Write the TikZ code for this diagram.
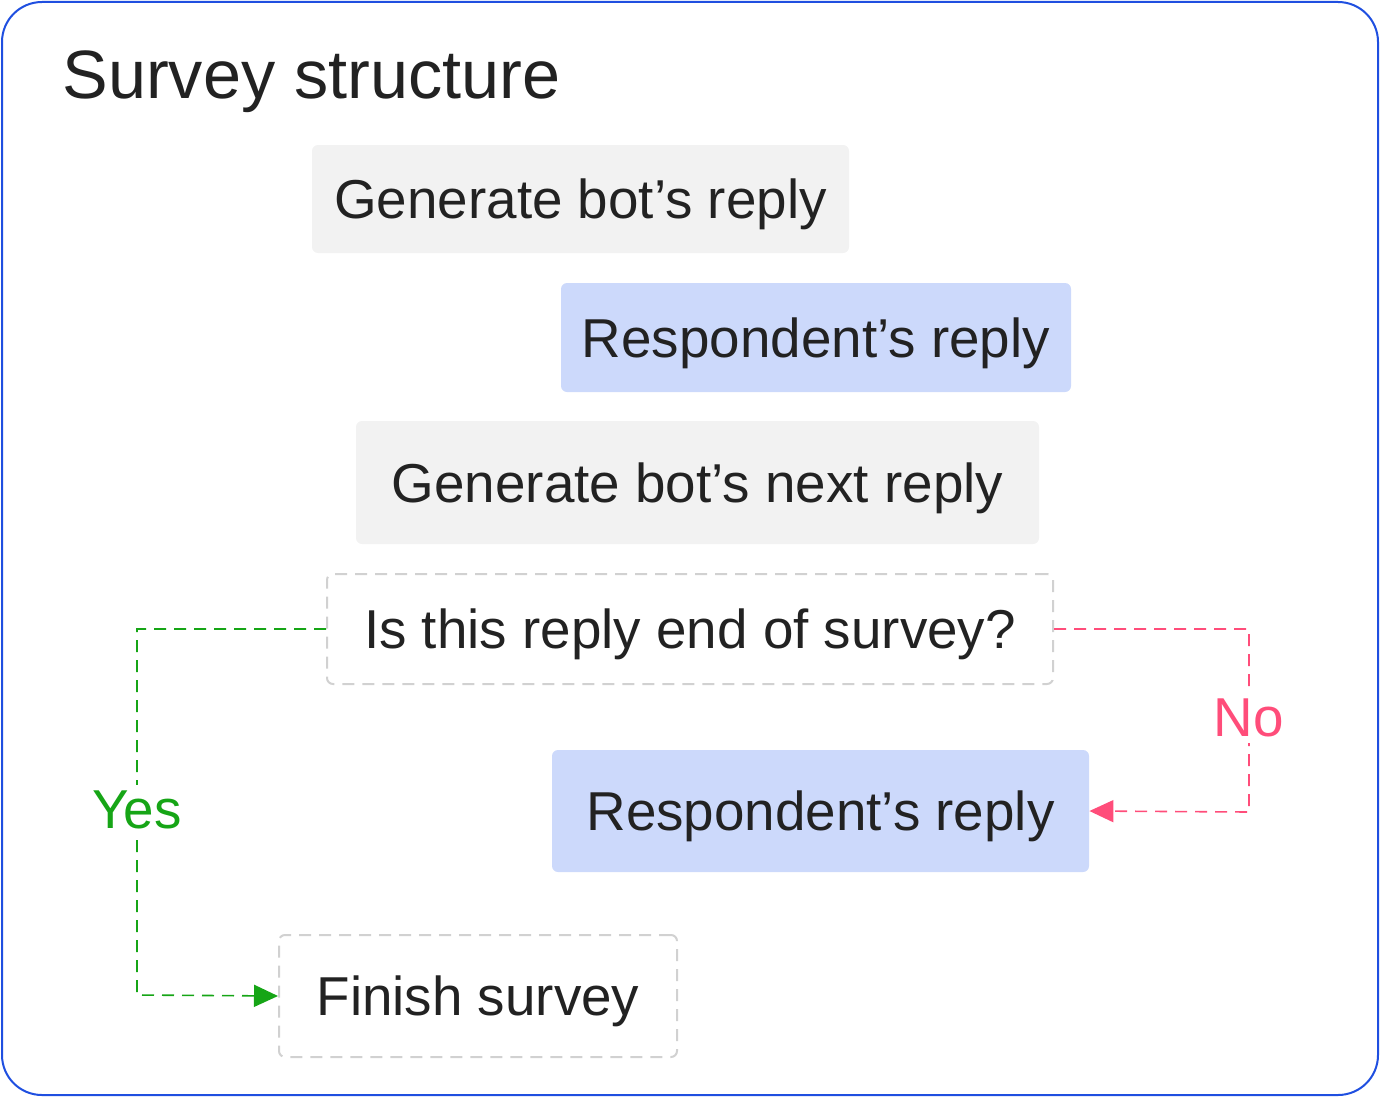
\documentclass[tikz,border=0pt]{standalone}
\usepackage{fontspec}
\setmainfont{Liberation Sans}
\usetikzlibrary{arrows.meta}
\definecolor{gbox}{HTML}{F2F2F2}
\definecolor{bbox}{HTML}{CCD9FB}
\definecolor{frame}{HTML}{1F4FE0}
\definecolor{yesg}{HTML}{16A516}
\definecolor{nop}{HTML}{FF4D7A}
\definecolor{txt}{HTML}{222222}
\tikzset{
 box/.style={rounded corners=3pt,inner sep=0pt,text=txt,font=\fontsize{27.4}{32}\selectfont},
 gb/.style={box,fill=gbox},
 bb/.style={box,fill=bbox},
 db/.style={box,draw=black!18,line width=1pt,dash pattern=on 6pt off 4pt},
 conn/.style={line width=0.8pt,dash pattern=on 6pt off 4pt,-{Triangle[length=12pt,width=11pt]}},
 lab/.style={fill=white,inner sep=3pt,font=\fontsize{27.4}{32}\selectfont}
}
\begin{document}
\begin{tikzpicture}[x=0.5pt,y=-0.5pt]
\useasboundingbox (0,0) rectangle (1380,1097);
\draw[frame,line width=1pt,rounded corners=20pt] (2,2) rectangle (1378,1095);
\node[anchor=base west,text=txt,font=\fontsize{34.2}{40}\selectfont,inner sep=0pt] (title) at (62,98) {Survey structure};
\node[gb,minimum width=268.5pt,minimum height=54pt,text depth=-1pt] (b1) at (580.5,199) {Generate bot’s reply};
\node[bb,minimum width=255pt,minimum height=54.5pt,text depth=-1pt] (b2) at (816,337.5) {Respondent’s reply};
\node[gb,minimum width=341.5pt,minimum height=61.5pt,text depth=-1pt] (b3) at (697.5,482.5) {Generate bot’s next reply};
\node[db,minimum width=363pt,minimum height=55pt,text depth=-1pt] (b4) at (690,629) {Is this reply end of survey?};
\node[bb,minimum width=268.5pt,minimum height=61pt,text depth=-1pt] (b5) at (820.5,811) {Respondent’s reply};
\node[db,minimum width=199pt,minimum height=61pt,text depth=-1pt] (b6) at (478,996) {Finish survey};
\draw[conn,yesg] (b4.west) -- (137,629) -- (137,995) -- (b6.west);
\draw[conn,nop] (b4.east) -- (1249,629) -- (1249,812) -- (b5.east);
\node[lab,text=yesg] (yes) at (137,810) {Yes};
\node[lab,text=nop] (no) at (1249,718) {No};
\end{tikzpicture}
\end{document}
